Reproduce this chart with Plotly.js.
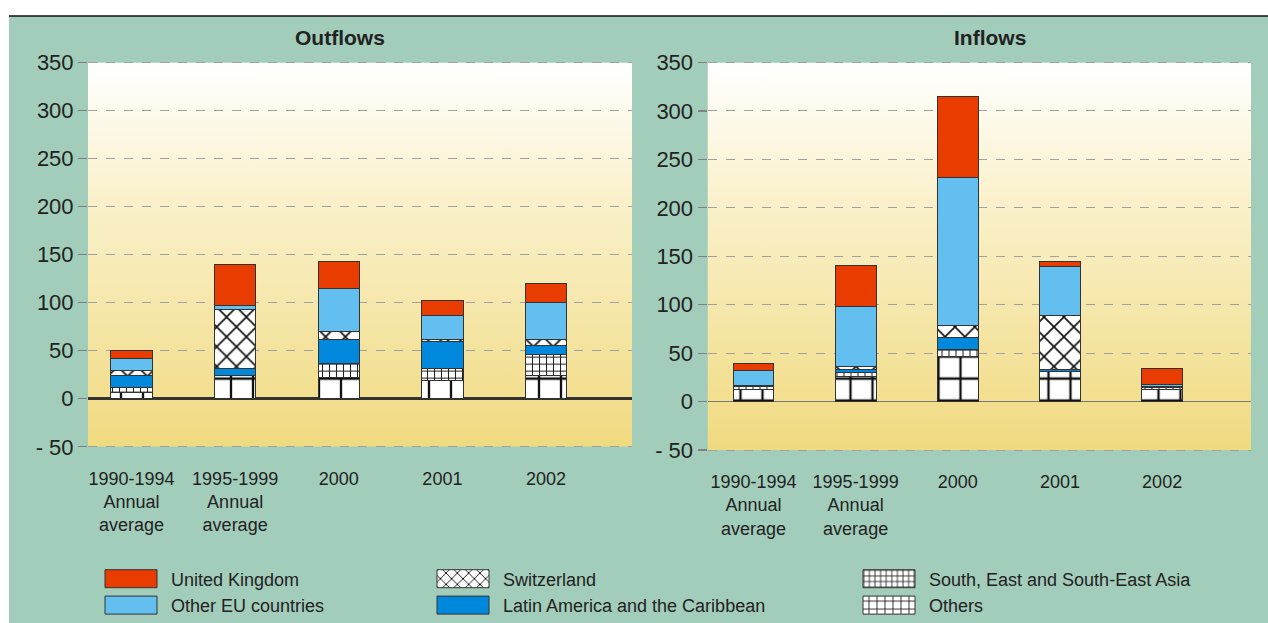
<!DOCTYPE html>
<html>
<head>
<meta charset="utf-8">
<script src="https://cdn.plot.ly/plotly-3.0.1.min.js"></script>
<style>
html,body{margin:0;padding:0;background:#fff;}
#chart{width:1268px;height:623px;}
</style>
</head>
<body>
<div id="chart"></div>
<script>
// ---- data ----
var categories = ["1990-1994<br>Annual<br>average", "1995-1999<br>Annual<br>average", "2000", "2001", "2002"];
var seriesNames = ["Others", "South, East and South-East Asia", "Latin America and the Caribbean", "Switzerland", "Other EU countries", "United Kingdom"];

// Outflows (stack order bottom -> top)
var outOthers  = [7, 24.5, 22, 19.2, 24.5];
var outAsia    = [5.2, 0, 14.7, 12.3, 22];
var outLatAm   = [12.3, 7, 25.2, 27.9, 9.4];
var outSwiss   = [5.2, 61.2, 8, 2.5, 6];
var outOtherEU = [12.3, 4.5, 44.8, 25.1, 37.8];
var outUK      = [8, 42.7, 28, 15, 20.2];

// Inflows
var inOthers  = [12, 26, 46.3, 31, 12];
var inAsia    = [3.4, 3.5, 7.9, 0.5, 2.5];
var inLatAm   = [1, 4, 11.6, 2, 0.5];
var inSwiss   = [0.5, 3, 13, 55, 1];
var inOtherEU = [14.7, 61.5, 152, 50.7, 1.2];
var inUK      = [7.5, 42, 84, 5.5, 17.4];

var yTickVals = [-50, 0, 50, 100, 150, 200, 250, 300, 350];
var yTickText = ["- 50", "0", "50", "100", "150", "200", "250", "300", "350"];

// ---- styles ----
var FONT = "Liberation Sans, Arial, sans-serif";
var TEAL = "#A3CDBB";
var styles = {
  "Others": {color: "#ffffff", pattern: {shape: "+", fgcolor: "#111", bgcolor: "#ffffff", size: 22, solidity: 0.2}, legend: "legend3", rank: 2},
  "South, East and South-East Asia": {color: "#ffffff", pattern: {shape: "+", fgcolor: "#222", bgcolor: "#ffffff", size: 7, solidity: 0.28}, legend: "legend3", rank: 1},
  "Latin America and the Caribbean": {color: "#0088DD", pattern: null, legend: "legend2", rank: 2},
  "Switzerland": {color: "#ffffff", pattern: {shape: "x", fgcolor: "#111", bgcolor: "#ffffff", size: 14, solidity: 0.22}, legend: "legend2", rank: 1},
  "Other EU countries": {color: "#62BFF0", pattern: null, legend: "legend", rank: 2},
  "United Kingdom": {color: "#E83C00", pattern: null, legend: "legend", rank: 1}
};

var outData = [outOthers, outAsia, outLatAm, outSwiss, outOtherEU, outUK];
var inData  = [inOthers, inAsia, inLatAm, inSwiss, inOtherEU, inUK];

var traces = [];
function addTraces(vals, xa, ya, showLeg) {
  seriesNames.forEach(function(name, i) {
    var s = styles[name];
    var marker = {color: s.color, line: {color: "#333", width: 1}};
    if (s.pattern) marker.pattern = s.pattern;
    traces.push({
      type: "bar", name: name, x: categories, y: vals[i],
      xaxis: xa, yaxis: ya, width: 0.4,
      marker: marker, showlegend: showLeg,
      legend: s.legend, legendrank: s.rank, hoverinfo: "skip"
    });
  });
}
addTraces(outData, "x", "y", true);
addTraces(inData, "x2", "y2", false);

function gradientSVG() {
  var svg = '<svg xmlns="http://www.w3.org/2000/svg" width="100" height="100" preserveAspectRatio="none">' +
    '<defs><linearGradient id="g" x1="0" y1="0" x2="0" y2="1">' +
    '<stop offset="0" stop-color="#FFFFFF"/><stop offset="0.35" stop-color="#FAF1CC"/>' +
    '<stop offset="1" stop-color="#F0DA80"/></linearGradient></defs>' +
    '<rect width="100" height="100" fill="url(#g)"/></svg>';
  return "data:image/svg+xml;charset=utf-8," + encodeURIComponent(svg);
}

var W = 1268, H = 623;
function px(x) { return x / W; }
function py(y) { return 1 - y / H; }

// plot panel pixel boxes (gridline 350 at y0, gridline -50 at y1)
var L = {x0: 88, x1: 632, y0: 62.5, y1: 446.8};
var R = {x0: 707.5, x1: 1251, y0: 62.5, y1: 450};
var YMIN = -50, YMAX = 350, PAD = 3;

function yAxis(dom, anchor, zc, zw) {
  var k = (dom.y1 - dom.y0) / (YMAX - YMIN);
  var top = dom.y0 - PAD * k, bot = dom.y1 + PAD * k;
  return {
    domain: [py(bot), py(top)], range: [YMIN - PAD, YMAX + PAD], anchor: anchor,
    tickmode: "array", tickvals: yTickVals, ticktext: yTickText,
    tickfont: {family: FONT, size: 22, color: "#222"},
    showgrid: true, gridcolor: "#A0A0A0", griddash: "dash", gridwidth: 1,
    zeroline: true, zerolinecolor: zc, zerolinewidth: zw,
    ticks: "outside", ticklen: 9, tickcolor: "#808080", tickwidth: 1.2,
    showline: false, fixedrange: true
  };
}
function xAxis(dom, anchor, rng) {
  return {
    domain: [px(dom.x0), px(dom.x1)], anchor: anchor, type: "category", range: rng,
    tickfont: {family: FONT, size: 18, color: "#222"},
    ticks: "", showgrid: false, zeroline: false, showline: false,
    ticklabelstandoff: 16, fixedrange: true
  };
}

function legendBox(x) {
  return {
    x: px(x), xanchor: "left", y: py(592), yanchor: "middle",
    orientation: "v", bgcolor: "rgba(0,0,0,0)", borderwidth: 0,
    font: {family: FONT, size: 18, color: "#222"},
    itemwidth: 70, tracegroupgap: 0, traceorder: "normal",
    itemclick: false, itemdoubleclick: false
  };
}

var layout = {
  width: W, height: H,
  margin: {l: 0, r: 0, t: 0, b: 0, autoexpand: false},
  paper_bgcolor: TEAL, plot_bgcolor: "rgba(0,0,0,0)",
  barmode: "stack",
  font: {family: FONT, color: "#222"},
  xaxis: xAxis(L, "y", [-0.42, 4.83]),
  yaxis: yAxis(L, "x", "#333333", 3),
  xaxis2: xAxis(R, "y2", [-0.45, 4.87]),
  yaxis2: yAxis(R, "x2", "#777777", 1.5),
  legend: legendBox(91),
  legend2: legendBox(423),
  legend3: legendBox(849),
  images: [
    {source: gradientSVG(), xref: "paper", yref: "paper", x: px(L.x0), y: py(L.y0),
     sizex: px(L.x1) - px(L.x0), sizey: py(L.y0) - py(L.y1), sizing: "stretch", layer: "below"},
    {source: gradientSVG(), xref: "paper", yref: "paper", x: px(R.x0), y: py(R.y0),
     sizex: px(R.x1) - px(R.x0), sizey: py(R.y0) - py(R.y1), sizing: "stretch", layer: "below"}
  ],
  shapes: [
    {type: "rect", xref: "paper", yref: "paper", x0: 0, x1: 1, y0: py(16), y1: 1,
     fillcolor: "#ffffff", line: {width: 0}, layer: "below"},
    {type: "rect", xref: "paper", yref: "paper", x0: 0, x1: px(9), y0: 0, y1: 1,
     fillcolor: "#ffffff", line: {width: 0}, layer: "below"},
    {type: "line", xref: "paper", yref: "paper", x0: px(9), x1: 1, y0: py(16), y1: py(16),
     line: {color: "#111", width: 1.5}}
  ],
  annotations: [
    {text: "<b>Outflows</b>", xref: "paper", yref: "paper", x: px(340), y: py(38),
     xanchor: "center", yanchor: "middle",
     showarrow: false, font: {family: FONT, size: 21, color: "#222"}},
    {text: "<b>Inflows</b>", xref: "paper", yref: "paper", x: px(990), y: py(38),
     xanchor: "center", yanchor: "middle",
     showarrow: false, font: {family: FONT, size: 21, color: "#222"}}
  ]
};

Plotly.newPlot("chart", traces, layout, {displayModeBar: false, staticPlot: true}).then(function(gd) {
  var pts = gd.querySelectorAll(".legendpoints path");
  pts.forEach(function(p) { p.setAttribute("d", "M26,9H-26V-9H26Z"); });
});
</script>
</body>
</html>
